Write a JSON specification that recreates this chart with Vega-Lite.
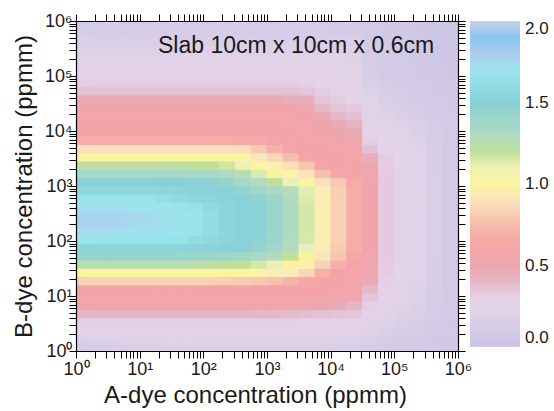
{
"$schema":"https://vega.github.io/schema/vega-lite/v6.json",
"width":382,"height":330,"autosize":"none",
"padding":{"left":76,"top":21,"right":96,"bottom":60},
"background":"white",
"config":{"view":{"stroke":null},"font":"Liberation Sans"},
"layer":[
{"data":{"values":[
{"a":1.334,"b":1.189,"v":0.12},{"a":2.371,"b":1.189,"v":0.13},{"a":4.217,"b":1.189,"v":0.14},{"a":7.499,"b":1.189,"v":0.16},{"a":13.34,"b":1.189,"v":0.17},{"a":23.71,"b":1.189,"v":0.18},{"a":42.17,"b":1.189,"v":0.18},{"a":74.99,"b":1.189,"v":0.18},{"a":133.4,"b":1.189,"v":0.18},{"a":237.1,"b":1.189,"v":0.18},{"a":421.7,"b":1.189,"v":0.18},{"a":749.9,"b":1.189,"v":0.18},{"a":1334,"b":1.189,"v":0.18},{"a":2371,"b":1.189,"v":0.18},{"a":4217,"b":1.189,"v":0.17},{"a":7499,"b":1.189,"v":0.17},{"a":13335,"b":1.189,"v":0.16},{"a":23714,"b":1.189,"v":0.15},{"a":42170,"b":1.189,"v":0.13},{"a":74989,"b":1.189,"v":0.11},{"a":133352,"b":1.189,"v":0.10},{"a":237137,"b":1.189,"v":0.09},{"a":421697,"b":1.189,"v":0.08},{"a":749894,"b":1.189,"v":0.06},
{"a":1.334,"b":1.679,"v":0.18},{"a":2.371,"b":1.679,"v":0.19},{"a":4.217,"b":1.679,"v":0.20},{"a":7.499,"b":1.679,"v":0.21},{"a":13.34,"b":1.679,"v":0.21},{"a":23.71,"b":1.679,"v":0.21},{"a":42.17,"b":1.679,"v":0.21},{"a":74.99,"b":1.679,"v":0.21},{"a":133.4,"b":1.679,"v":0.21},{"a":237.1,"b":1.679,"v":0.21},{"a":421.7,"b":1.679,"v":0.21},{"a":749.9,"b":1.679,"v":0.21},{"a":1334,"b":1.679,"v":0.21},{"a":2371,"b":1.679,"v":0.21},{"a":4217,"b":1.679,"v":0.20},{"a":7499,"b":1.679,"v":0.19},{"a":13335,"b":1.679,"v":0.18},{"a":23714,"b":1.679,"v":0.18},{"a":42170,"b":1.679,"v":0.16},{"a":74989,"b":1.679,"v":0.13},{"a":133352,"b":1.679,"v":0.12},{"a":237137,"b":1.679,"v":0.11},{"a":421697,"b":1.679,"v":0.09},{"a":749894,"b":1.679,"v":0.07},
{"a":1.334,"b":2.371,"v":0.25},{"a":2.371,"b":2.371,"v":0.25},{"a":4.217,"b":2.371,"v":0.25},{"a":7.499,"b":2.371,"v":0.25},{"a":13.34,"b":2.371,"v":0.25},{"a":23.71,"b":2.371,"v":0.25},{"a":42.17,"b":2.371,"v":0.25},{"a":74.99,"b":2.371,"v":0.25},{"a":133.4,"b":2.371,"v":0.25},{"a":237.1,"b":2.371,"v":0.25},{"a":421.7,"b":2.371,"v":0.25},{"a":749.9,"b":2.371,"v":0.25},{"a":1334,"b":2.371,"v":0.25},{"a":2371,"b":2.371,"v":0.25},{"a":4217,"b":2.371,"v":0.25},{"a":7499,"b":2.371,"v":0.24},{"a":13335,"b":2.371,"v":0.23},{"a":23714,"b":2.371,"v":0.23},{"a":42170,"b":2.371,"v":0.19},{"a":74989,"b":2.371,"v":0.16},{"a":133352,"b":2.371,"v":0.13},{"a":237137,"b":2.371,"v":0.12},{"a":421697,"b":2.371,"v":0.10},{"a":749894,"b":2.371,"v":0.08},
{"a":1.334,"b":3.35,"v":0.31},{"a":2.371,"b":3.35,"v":0.31},{"a":4.217,"b":3.35,"v":0.31},{"a":7.499,"b":3.35,"v":0.31},{"a":13.34,"b":3.35,"v":0.31},{"a":23.71,"b":3.35,"v":0.31},{"a":42.17,"b":3.35,"v":0.31},{"a":74.99,"b":3.35,"v":0.31},{"a":133.4,"b":3.35,"v":0.31},{"a":237.1,"b":3.35,"v":0.31},{"a":421.7,"b":3.35,"v":0.31},{"a":749.9,"b":3.35,"v":0.31},{"a":1334,"b":3.35,"v":0.31},{"a":2371,"b":3.35,"v":0.31},{"a":4217,"b":3.35,"v":0.30},{"a":7499,"b":3.35,"v":0.30},{"a":13335,"b":3.35,"v":0.29},{"a":23714,"b":3.35,"v":0.28},{"a":42170,"b":3.35,"v":0.23},{"a":74989,"b":3.35,"v":0.19},{"a":133352,"b":3.35,"v":0.16},{"a":237137,"b":3.35,"v":0.13},{"a":421697,"b":3.35,"v":0.11},{"a":749894,"b":3.35,"v":0.08},
{"a":1.334,"b":4.732,"v":0.40},{"a":2.371,"b":4.732,"v":0.40},{"a":4.217,"b":4.732,"v":0.40},{"a":7.499,"b":4.732,"v":0.40},{"a":13.34,"b":4.732,"v":0.40},{"a":23.71,"b":4.732,"v":0.40},{"a":42.17,"b":4.732,"v":0.40},{"a":74.99,"b":4.732,"v":0.40},{"a":133.4,"b":4.732,"v":0.40},{"a":237.1,"b":4.732,"v":0.40},{"a":421.7,"b":4.732,"v":0.40},{"a":749.9,"b":4.732,"v":0.39},{"a":1334,"b":4.732,"v":0.39},{"a":2371,"b":4.732,"v":0.38},{"a":4217,"b":4.732,"v":0.37},{"a":7499,"b":4.732,"v":0.36},{"a":13335,"b":4.732,"v":0.35},{"a":23714,"b":4.732,"v":0.34},{"a":42170,"b":4.732,"v":0.27},{"a":74989,"b":4.732,"v":0.22},{"a":133352,"b":4.732,"v":0.18},{"a":237137,"b":4.732,"v":0.15},{"a":421697,"b":4.732,"v":0.12},{"a":749894,"b":4.732,"v":0.09},
{"a":1.334,"b":6.683,"v":0.53},{"a":2.371,"b":6.683,"v":0.53},{"a":4.217,"b":6.683,"v":0.53},{"a":7.499,"b":6.683,"v":0.53},{"a":13.34,"b":6.683,"v":0.53},{"a":23.71,"b":6.683,"v":0.53},{"a":42.17,"b":6.683,"v":0.53},{"a":74.99,"b":6.683,"v":0.53},{"a":133.4,"b":6.683,"v":0.53},{"a":237.1,"b":6.683,"v":0.53},{"a":421.7,"b":6.683,"v":0.53},{"a":749.9,"b":6.683,"v":0.53},{"a":1334,"b":6.683,"v":0.52},{"a":2371,"b":6.683,"v":0.52},{"a":4217,"b":6.683,"v":0.51},{"a":7499,"b":6.683,"v":0.48},{"a":13335,"b":6.683,"v":0.44},{"a":23714,"b":6.683,"v":0.40},{"a":42170,"b":6.683,"v":0.31},{"a":74989,"b":6.683,"v":0.25},{"a":133352,"b":6.683,"v":0.20},{"a":237137,"b":6.683,"v":0.17},{"a":421697,"b":6.683,"v":0.12},{"a":749894,"b":6.683,"v":0.09},
{"a":1.334,"b":9.441,"v":0.57},{"a":2.371,"b":9.441,"v":0.57},{"a":4.217,"b":9.441,"v":0.57},{"a":7.499,"b":9.441,"v":0.57},{"a":13.34,"b":9.441,"v":0.57},{"a":23.71,"b":9.441,"v":0.57},{"a":42.17,"b":9.441,"v":0.57},{"a":74.99,"b":9.441,"v":0.57},{"a":133.4,"b":9.441,"v":0.57},{"a":237.1,"b":9.441,"v":0.57},{"a":421.7,"b":9.441,"v":0.57},{"a":749.9,"b":9.441,"v":0.57},{"a":1334,"b":9.441,"v":0.57},{"a":2371,"b":9.441,"v":0.57},{"a":4217,"b":9.441,"v":0.56},{"a":7499,"b":9.441,"v":0.55},{"a":13335,"b":9.441,"v":0.52},{"a":23714,"b":9.441,"v":0.50},{"a":42170,"b":9.441,"v":0.35},{"a":74989,"b":9.441,"v":0.27},{"a":133352,"b":9.441,"v":0.22},{"a":237137,"b":9.441,"v":0.18},{"a":421697,"b":9.441,"v":0.13},{"a":749894,"b":9.441,"v":0.10},
{"a":1.334,"b":13.34,"v":0.60},{"a":2.371,"b":13.34,"v":0.60},{"a":4.217,"b":13.34,"v":0.60},{"a":7.499,"b":13.34,"v":0.60},{"a":13.34,"b":13.34,"v":0.60},{"a":23.71,"b":13.34,"v":0.60},{"a":42.17,"b":13.34,"v":0.60},{"a":74.99,"b":13.34,"v":0.60},{"a":133.4,"b":13.34,"v":0.60},{"a":237.1,"b":13.34,"v":0.60},{"a":421.7,"b":13.34,"v":0.60},{"a":749.9,"b":13.34,"v":0.60},{"a":1334,"b":13.34,"v":0.60},{"a":2371,"b":13.34,"v":0.59},{"a":4217,"b":13.34,"v":0.59},{"a":7499,"b":13.34,"v":0.58},{"a":13335,"b":13.34,"v":0.56},{"a":23714,"b":13.34,"v":0.54},{"a":42170,"b":13.34,"v":0.39},{"a":74989,"b":13.34,"v":0.29},{"a":133352,"b":13.34,"v":0.23},{"a":237137,"b":13.34,"v":0.19},{"a":421697,"b":13.34,"v":0.13},{"a":749894,"b":13.34,"v":0.10},
{"a":1.334,"b":18.84,"v":0.84},{"a":2.371,"b":18.84,"v":0.84},{"a":4.217,"b":18.84,"v":0.84},{"a":7.499,"b":18.84,"v":0.84},{"a":13.34,"b":18.84,"v":0.84},{"a":23.71,"b":18.84,"v":0.84},{"a":42.17,"b":18.84,"v":0.84},{"a":74.99,"b":18.84,"v":0.84},{"a":133.4,"b":18.84,"v":0.83},{"a":237.1,"b":18.84,"v":0.82},{"a":421.7,"b":18.84,"v":0.81},{"a":749.9,"b":18.84,"v":0.79},{"a":1334,"b":18.84,"v":0.76},{"a":2371,"b":18.84,"v":0.71},{"a":4217,"b":18.84,"v":0.64},{"a":7499,"b":18.84,"v":0.60},{"a":13335,"b":18.84,"v":0.59},{"a":23714,"b":18.84,"v":0.57},{"a":42170,"b":18.84,"v":0.44},{"a":74989,"b":18.84,"v":0.31},{"a":133352,"b":18.84,"v":0.24},{"a":237137,"b":18.84,"v":0.20},{"a":421697,"b":18.84,"v":0.14},{"a":749894,"b":18.84,"v":0.10},
{"a":1.334,"b":26.61,"v":1.04},{"a":2.371,"b":26.61,"v":1.04},{"a":4.217,"b":26.61,"v":1.04},{"a":7.499,"b":26.61,"v":1.04},{"a":13.34,"b":26.61,"v":1.04},{"a":23.71,"b":26.61,"v":1.04},{"a":42.17,"b":26.61,"v":1.04},{"a":74.99,"b":26.61,"v":1.03},{"a":133.4,"b":26.61,"v":1.03},{"a":237.1,"b":26.61,"v":1.02},{"a":421.7,"b":26.61,"v":1.00},{"a":749.9,"b":26.61,"v":0.98},{"a":1334,"b":26.61,"v":0.95},{"a":2371,"b":26.61,"v":0.92},{"a":4217,"b":26.61,"v":0.85},{"a":7499,"b":26.61,"v":0.70},{"a":13335,"b":26.61,"v":0.60},{"a":23714,"b":26.61,"v":0.59},{"a":42170,"b":26.61,"v":0.48},{"a":74989,"b":26.61,"v":0.32},{"a":133352,"b":26.61,"v":0.25},{"a":237137,"b":26.61,"v":0.20},{"a":421697,"b":26.61,"v":0.14},{"a":749894,"b":26.61,"v":0.10},
{"a":1.334,"b":37.58,"v":1.23},{"a":2.371,"b":37.58,"v":1.23},{"a":4.217,"b":37.58,"v":1.23},{"a":7.499,"b":37.58,"v":1.23},{"a":13.34,"b":37.58,"v":1.23},{"a":23.71,"b":37.58,"v":1.23},{"a":42.17,"b":37.58,"v":1.23},{"a":74.99,"b":37.58,"v":1.22},{"a":133.4,"b":37.58,"v":1.21},{"a":237.1,"b":37.58,"v":1.20},{"a":421.7,"b":37.58,"v":1.18},{"a":749.9,"b":37.58,"v":1.15},{"a":1334,"b":37.58,"v":1.11},{"a":2371,"b":37.58,"v":1.05},{"a":4217,"b":37.58,"v":0.97},{"a":7499,"b":37.58,"v":0.84},{"a":13335,"b":37.58,"v":0.69},{"a":23714,"b":37.58,"v":0.60},{"a":42170,"b":37.58,"v":0.50},{"a":74989,"b":37.58,"v":0.32},{"a":133352,"b":37.58,"v":0.26},{"a":237137,"b":37.58,"v":0.20},{"a":421697,"b":37.58,"v":0.14},{"a":749894,"b":37.58,"v":0.10},
{"a":1.334,"b":53.09,"v":1.42},{"a":2.371,"b":53.09,"v":1.42},{"a":4.217,"b":53.09,"v":1.42},{"a":7.499,"b":53.09,"v":1.42},{"a":13.34,"b":53.09,"v":1.42},{"a":23.71,"b":53.09,"v":1.42},{"a":42.17,"b":53.09,"v":1.41},{"a":74.99,"b":53.09,"v":1.41},{"a":133.4,"b":53.09,"v":1.40},{"a":237.1,"b":53.09,"v":1.39},{"a":421.7,"b":53.09,"v":1.37},{"a":749.9,"b":53.09,"v":1.33},{"a":1334,"b":53.09,"v":1.27},{"a":2371,"b":53.09,"v":1.19},{"a":4217,"b":53.09,"v":1.06},{"a":7499,"b":53.09,"v":0.90},{"a":13335,"b":53.09,"v":0.78},{"a":23714,"b":53.09,"v":0.64},{"a":42170,"b":53.09,"v":0.51},{"a":74989,"b":53.09,"v":0.33},{"a":133352,"b":53.09,"v":0.26},{"a":237137,"b":53.09,"v":0.20},{"a":421697,"b":53.09,"v":0.14},{"a":749894,"b":53.09,"v":0.10},
{"a":1.334,"b":74.99,"v":1.56},{"a":2.371,"b":74.99,"v":1.56},{"a":4.217,"b":74.99,"v":1.56},{"a":7.499,"b":74.99,"v":1.56},{"a":13.34,"b":74.99,"v":1.56},{"a":23.71,"b":74.99,"v":1.56},{"a":42.17,"b":74.99,"v":1.56},{"a":74.99,"b":74.99,"v":1.55},{"a":133.4,"b":74.99,"v":1.54},{"a":237.1,"b":74.99,"v":1.52},{"a":421.7,"b":74.99,"v":1.48},{"a":749.9,"b":74.99,"v":1.44},{"a":1334,"b":74.99,"v":1.37},{"a":2371,"b":74.99,"v":1.27},{"a":4217,"b":74.99,"v":1.12},{"a":7499,"b":74.99,"v":0.93},{"a":13335,"b":74.99,"v":0.81},{"a":23714,"b":74.99,"v":0.67},{"a":42170,"b":74.99,"v":0.52},{"a":74989,"b":74.99,"v":0.33},{"a":133352,"b":74.99,"v":0.26},{"a":237137,"b":74.99,"v":0.20},{"a":421697,"b":74.99,"v":0.15},{"a":749894,"b":74.99,"v":0.10},
{"a":1.334,"b":105.9,"v":1.65},{"a":2.371,"b":105.9,"v":1.65},{"a":4.217,"b":105.9,"v":1.65},{"a":7.499,"b":105.9,"v":1.65},{"a":13.34,"b":105.9,"v":1.64},{"a":23.71,"b":105.9,"v":1.64},{"a":42.17,"b":105.9,"v":1.63},{"a":74.99,"b":105.9,"v":1.61},{"a":133.4,"b":105.9,"v":1.59},{"a":237.1,"b":105.9,"v":1.56},{"a":421.7,"b":105.9,"v":1.52},{"a":749.9,"b":105.9,"v":1.47},{"a":1334,"b":105.9,"v":1.40},{"a":2371,"b":105.9,"v":1.30},{"a":4217,"b":105.9,"v":1.15},{"a":7499,"b":105.9,"v":0.95},{"a":13335,"b":105.9,"v":0.83},{"a":23714,"b":105.9,"v":0.68},{"a":42170,"b":105.9,"v":0.52},{"a":74989,"b":105.9,"v":0.33},{"a":133352,"b":105.9,"v":0.26},{"a":237137,"b":105.9,"v":0.20},{"a":421697,"b":105.9,"v":0.15},{"a":749894,"b":105.9,"v":0.10},
{"a":1.334,"b":149.6,"v":1.73},{"a":2.371,"b":149.6,"v":1.73},{"a":4.217,"b":149.6,"v":1.73},{"a":7.499,"b":149.6,"v":1.72},{"a":13.34,"b":149.6,"v":1.71},{"a":23.71,"b":149.6,"v":1.70},{"a":42.17,"b":149.6,"v":1.67},{"a":74.99,"b":149.6,"v":1.64},{"a":133.4,"b":149.6,"v":1.61},{"a":237.1,"b":149.6,"v":1.58},{"a":421.7,"b":149.6,"v":1.53},{"a":749.9,"b":149.6,"v":1.48},{"a":1334,"b":149.6,"v":1.41},{"a":2371,"b":149.6,"v":1.31},{"a":4217,"b":149.6,"v":1.15},{"a":7499,"b":149.6,"v":0.95},{"a":13335,"b":149.6,"v":0.83},{"a":23714,"b":149.6,"v":0.68},{"a":42170,"b":149.6,"v":0.52},{"a":74989,"b":149.6,"v":0.33},{"a":133352,"b":149.6,"v":0.26},{"a":237137,"b":149.6,"v":0.20},{"a":421697,"b":149.6,"v":0.15},{"a":749894,"b":149.6,"v":0.10},
{"a":1.334,"b":211.3,"v":1.79},{"a":2.371,"b":211.3,"v":1.78},{"a":4.217,"b":211.3,"v":1.77},{"a":7.499,"b":211.3,"v":1.75},{"a":13.34,"b":211.3,"v":1.73},{"a":23.71,"b":211.3,"v":1.71},{"a":42.17,"b":211.3,"v":1.68},{"a":74.99,"b":211.3,"v":1.65},{"a":133.4,"b":211.3,"v":1.61},{"a":237.1,"b":211.3,"v":1.58},{"a":421.7,"b":211.3,"v":1.53},{"a":749.9,"b":211.3,"v":1.48},{"a":1334,"b":211.3,"v":1.41},{"a":2371,"b":211.3,"v":1.31},{"a":4217,"b":211.3,"v":1.15},{"a":7499,"b":211.3,"v":0.95},{"a":13335,"b":211.3,"v":0.83},{"a":23714,"b":211.3,"v":0.68},{"a":42170,"b":211.3,"v":0.52},{"a":74989,"b":211.3,"v":0.33},{"a":133352,"b":211.3,"v":0.26},{"a":237137,"b":211.3,"v":0.20},{"a":421697,"b":211.3,"v":0.15},{"a":749894,"b":211.3,"v":0.10},
{"a":1.334,"b":298.5,"v":1.77},{"a":2.371,"b":298.5,"v":1.77},{"a":4.217,"b":298.5,"v":1.76},{"a":7.499,"b":298.5,"v":1.75},{"a":13.34,"b":298.5,"v":1.73},{"a":23.71,"b":298.5,"v":1.71},{"a":42.17,"b":298.5,"v":1.68},{"a":74.99,"b":298.5,"v":1.65},{"a":133.4,"b":298.5,"v":1.61},{"a":237.1,"b":298.5,"v":1.58},{"a":421.7,"b":298.5,"v":1.53},{"a":749.9,"b":298.5,"v":1.48},{"a":1334,"b":298.5,"v":1.41},{"a":2371,"b":298.5,"v":1.31},{"a":4217,"b":298.5,"v":1.15},{"a":7499,"b":298.5,"v":0.95},{"a":13335,"b":298.5,"v":0.83},{"a":23714,"b":298.5,"v":0.68},{"a":42170,"b":298.5,"v":0.52},{"a":74989,"b":298.5,"v":0.33},{"a":133352,"b":298.5,"v":0.26},{"a":237137,"b":298.5,"v":0.20},{"a":421697,"b":298.5,"v":0.15},{"a":749894,"b":298.5,"v":0.10},
{"a":1.334,"b":421.7,"v":1.71},{"a":2.371,"b":421.7,"v":1.71},{"a":4.217,"b":421.7,"v":1.71},{"a":7.499,"b":421.7,"v":1.70},{"a":13.34,"b":421.7,"v":1.68},{"a":23.71,"b":421.7,"v":1.67},{"a":42.17,"b":421.7,"v":1.65},{"a":74.99,"b":421.7,"v":1.63},{"a":133.4,"b":421.7,"v":1.60},{"a":237.1,"b":421.7,"v":1.57},{"a":421.7,"b":421.7,"v":1.53},{"a":749.9,"b":421.7,"v":1.48},{"a":1334,"b":421.7,"v":1.41},{"a":2371,"b":421.7,"v":1.31},{"a":4217,"b":421.7,"v":1.15},{"a":7499,"b":421.7,"v":0.95},{"a":13335,"b":421.7,"v":0.83},{"a":23714,"b":421.7,"v":0.68},{"a":42170,"b":421.7,"v":0.52},{"a":74989,"b":421.7,"v":0.33},{"a":133352,"b":421.7,"v":0.26},{"a":237137,"b":421.7,"v":0.20},{"a":421697,"b":421.7,"v":0.15},{"a":749894,"b":421.7,"v":0.10},
{"a":1.334,"b":595.7,"v":1.64},{"a":2.371,"b":595.7,"v":1.64},{"a":4.217,"b":595.7,"v":1.64},{"a":7.499,"b":595.7,"v":1.64},{"a":13.34,"b":595.7,"v":1.64},{"a":23.71,"b":595.7,"v":1.62},{"a":42.17,"b":595.7,"v":1.60},{"a":74.99,"b":595.7,"v":1.58},{"a":133.4,"b":595.7,"v":1.56},{"a":237.1,"b":595.7,"v":1.54},{"a":421.7,"b":595.7,"v":1.50},{"a":749.9,"b":595.7,"v":1.47},{"a":1334,"b":595.7,"v":1.40},{"a":2371,"b":595.7,"v":1.30},{"a":4217,"b":595.7,"v":1.14},{"a":7499,"b":595.7,"v":0.95},{"a":13335,"b":595.7,"v":0.83},{"a":23714,"b":595.7,"v":0.68},{"a":42170,"b":595.7,"v":0.52},{"a":74989,"b":595.7,"v":0.33},{"a":133352,"b":595.7,"v":0.26},{"a":237137,"b":595.7,"v":0.20},{"a":421697,"b":595.7,"v":0.15},{"a":749894,"b":595.7,"v":0.10},
{"a":1.334,"b":841.4,"v":1.58},{"a":2.371,"b":841.4,"v":1.58},{"a":4.217,"b":841.4,"v":1.58},{"a":7.499,"b":841.4,"v":1.58},{"a":13.34,"b":841.4,"v":1.58},{"a":23.71,"b":841.4,"v":1.57},{"a":42.17,"b":841.4,"v":1.56},{"a":74.99,"b":841.4,"v":1.54},{"a":133.4,"b":841.4,"v":1.51},{"a":237.1,"b":841.4,"v":1.48},{"a":421.7,"b":841.4,"v":1.45},{"a":749.9,"b":841.4,"v":1.38},{"a":1334,"b":841.4,"v":1.33},{"a":2371,"b":841.4,"v":1.24},{"a":4217,"b":841.4,"v":1.13},{"a":7499,"b":841.4,"v":0.94},{"a":13335,"b":841.4,"v":0.82},{"a":23714,"b":841.4,"v":0.67},{"a":42170,"b":841.4,"v":0.52},{"a":74989,"b":841.4,"v":0.33},{"a":133352,"b":841.4,"v":0.26},{"a":237137,"b":841.4,"v":0.20},{"a":421697,"b":841.4,"v":0.15},{"a":749894,"b":841.4,"v":0.10},
{"a":1.334,"b":1189,"v":1.51},{"a":2.371,"b":1189,"v":1.51},{"a":4.217,"b":1189,"v":1.51},{"a":7.499,"b":1189,"v":1.51},{"a":13.34,"b":1189,"v":1.51},{"a":23.71,"b":1189,"v":1.50},{"a":42.17,"b":1189,"v":1.50},{"a":74.99,"b":1189,"v":1.49},{"a":133.4,"b":1189,"v":1.46},{"a":237.1,"b":1189,"v":1.42},{"a":421.7,"b":1189,"v":1.35},{"a":749.9,"b":1189,"v":1.28},{"a":1334,"b":1189,"v":1.20},{"a":2371,"b":1189,"v":1.11},{"a":4217,"b":1189,"v":1.00},{"a":7499,"b":1189,"v":0.89},{"a":13335,"b":1189,"v":0.80},{"a":23714,"b":1189,"v":0.65},{"a":42170,"b":1189,"v":0.51},{"a":74989,"b":1189,"v":0.33},{"a":133352,"b":1189,"v":0.26},{"a":237137,"b":1189,"v":0.20},{"a":421697,"b":1189,"v":0.15},{"a":749894,"b":1189,"v":0.10},
{"a":1.334,"b":1679,"v":1.36},{"a":2.371,"b":1679,"v":1.36},{"a":4.217,"b":1679,"v":1.36},{"a":7.499,"b":1679,"v":1.36},{"a":13.34,"b":1679,"v":1.36},{"a":23.71,"b":1679,"v":1.36},{"a":42.17,"b":1679,"v":1.35},{"a":74.99,"b":1679,"v":1.35},{"a":133.4,"b":1679,"v":1.34},{"a":237.1,"b":1679,"v":1.30},{"a":421.7,"b":1679,"v":1.23},{"a":749.9,"b":1679,"v":1.14},{"a":1334,"b":1679,"v":1.07},{"a":2371,"b":1679,"v":0.98},{"a":4217,"b":1679,"v":0.90},{"a":7499,"b":1679,"v":0.76},{"a":13335,"b":1679,"v":0.64},{"a":23714,"b":1679,"v":0.60},{"a":42170,"b":1679,"v":0.51},{"a":74989,"b":1679,"v":0.33},{"a":133352,"b":1679,"v":0.26},{"a":237137,"b":1679,"v":0.20},{"a":421697,"b":1679,"v":0.14},{"a":749894,"b":1679,"v":0.10},
{"a":1.334,"b":2371,"v":1.21},{"a":2.371,"b":2371,"v":1.21},{"a":4.217,"b":2371,"v":1.21},{"a":7.499,"b":2371,"v":1.21},{"a":13.34,"b":2371,"v":1.21},{"a":23.71,"b":2371,"v":1.21},{"a":42.17,"b":2371,"v":1.21},{"a":74.99,"b":2371,"v":1.20},{"a":133.4,"b":2371,"v":1.19},{"a":237.1,"b":2371,"v":1.16},{"a":421.7,"b":2371,"v":1.10},{"a":749.9,"b":2371,"v":1.01},{"a":1334,"b":2371,"v":0.95},{"a":2371,"b":2371,"v":0.88},{"a":4217,"b":2371,"v":0.78},{"a":7499,"b":2371,"v":0.61},{"a":13335,"b":2371,"v":0.59},{"a":23714,"b":2371,"v":0.59},{"a":42170,"b":2371,"v":0.49},{"a":74989,"b":2371,"v":0.32},{"a":133352,"b":2371,"v":0.26},{"a":237137,"b":2371,"v":0.20},{"a":421697,"b":2371,"v":0.14},{"a":749894,"b":2371,"v":0.10},
{"a":1.334,"b":3350,"v":1.05},{"a":2.371,"b":3350,"v":1.05},{"a":4.217,"b":3350,"v":1.05},{"a":7.499,"b":3350,"v":1.05},{"a":13.34,"b":3350,"v":1.05},{"a":23.71,"b":3350,"v":1.05},{"a":42.17,"b":3350,"v":1.05},{"a":74.99,"b":3350,"v":1.05},{"a":133.4,"b":3350,"v":1.04},{"a":237.1,"b":3350,"v":1.03},{"a":421.7,"b":3350,"v":0.98},{"a":749.9,"b":3350,"v":0.91},{"a":1334,"b":3350,"v":0.85},{"a":2371,"b":3350,"v":0.75},{"a":4217,"b":3350,"v":0.62},{"a":7499,"b":3350,"v":0.59},{"a":13335,"b":3350,"v":0.58},{"a":23714,"b":3350,"v":0.57},{"a":42170,"b":3350,"v":0.43},{"a":74989,"b":3350,"v":0.32},{"a":133352,"b":3350,"v":0.25},{"a":237137,"b":3350,"v":0.20},{"a":421697,"b":3350,"v":0.14},{"a":749894,"b":3350,"v":0.10},
{"a":1.334,"b":4732,"v":0.89},{"a":2.371,"b":4732,"v":0.89},{"a":4.217,"b":4732,"v":0.89},{"a":7.499,"b":4732,"v":0.89},{"a":13.34,"b":4732,"v":0.89},{"a":23.71,"b":4732,"v":0.89},{"a":42.17,"b":4732,"v":0.89},{"a":74.99,"b":4732,"v":0.89},{"a":133.4,"b":4732,"v":0.89},{"a":237.1,"b":4732,"v":0.88},{"a":421.7,"b":4732,"v":0.87},{"a":749.9,"b":4732,"v":0.80},{"a":1334,"b":4732,"v":0.70},{"a":2371,"b":4732,"v":0.61},{"a":4217,"b":4732,"v":0.59},{"a":7499,"b":4732,"v":0.58},{"a":13335,"b":4732,"v":0.57},{"a":23714,"b":4732,"v":0.55},{"a":42170,"b":4732,"v":0.36},{"a":74989,"b":4732,"v":0.29},{"a":133352,"b":4732,"v":0.25},{"a":237137,"b":4732,"v":0.20},{"a":421697,"b":4732,"v":0.14},{"a":749894,"b":4732,"v":0.10},
{"a":1.334,"b":6683,"v":0.68},{"a":2.371,"b":6683,"v":0.68},{"a":4.217,"b":6683,"v":0.68},{"a":7.499,"b":6683,"v":0.68},{"a":13.34,"b":6683,"v":0.68},{"a":23.71,"b":6683,"v":0.68},{"a":42.17,"b":6683,"v":0.68},{"a":74.99,"b":6683,"v":0.68},{"a":133.4,"b":6683,"v":0.67},{"a":237.1,"b":6683,"v":0.67},{"a":421.7,"b":6683,"v":0.66},{"a":749.9,"b":6683,"v":0.65},{"a":1334,"b":6683,"v":0.60},{"a":2371,"b":6683,"v":0.59},{"a":4217,"b":6683,"v":0.58},{"a":7499,"b":6683,"v":0.56},{"a":13335,"b":6683,"v":0.54},{"a":23714,"b":6683,"v":0.52},{"a":42170,"b":6683,"v":0.32},{"a":74989,"b":6683,"v":0.26},{"a":133352,"b":6683,"v":0.21},{"a":237137,"b":6683,"v":0.18},{"a":421697,"b":6683,"v":0.13},{"a":749894,"b":6683,"v":0.10},
{"a":1.334,"b":9441,"v":0.59},{"a":2.371,"b":9441,"v":0.59},{"a":4.217,"b":9441,"v":0.59},{"a":7.499,"b":9441,"v":0.59},{"a":13.34,"b":9441,"v":0.59},{"a":23.71,"b":9441,"v":0.59},{"a":42.17,"b":9441,"v":0.59},{"a":74.99,"b":9441,"v":0.59},{"a":133.4,"b":9441,"v":0.59},{"a":237.1,"b":9441,"v":0.59},{"a":421.7,"b":9441,"v":0.59},{"a":749.9,"b":9441,"v":0.59},{"a":1334,"b":9441,"v":0.59},{"a":2371,"b":9441,"v":0.58},{"a":4217,"b":9441,"v":0.57},{"a":7499,"b":9441,"v":0.54},{"a":13335,"b":9441,"v":0.52},{"a":23714,"b":9441,"v":0.47},{"a":42170,"b":9441,"v":0.29},{"a":74989,"b":9441,"v":0.23},{"a":133352,"b":9441,"v":0.20},{"a":237137,"b":9441,"v":0.17},{"a":421697,"b":9441,"v":0.13},{"a":749894,"b":9441,"v":0.10},
{"a":1.334,"b":13335,"v":0.58},{"a":2.371,"b":13335,"v":0.58},{"a":4.217,"b":13335,"v":0.58},{"a":7.499,"b":13335,"v":0.58},{"a":13.34,"b":13335,"v":0.58},{"a":23.71,"b":13335,"v":0.58},{"a":42.17,"b":13335,"v":0.58},{"a":74.99,"b":13335,"v":0.58},{"a":133.4,"b":13335,"v":0.58},{"a":237.1,"b":13335,"v":0.58},{"a":421.7,"b":13335,"v":0.58},{"a":749.9,"b":13335,"v":0.58},{"a":1334,"b":13335,"v":0.58},{"a":2371,"b":13335,"v":0.57},{"a":4217,"b":13335,"v":0.55},{"a":7499,"b":13335,"v":0.52},{"a":13335,"b":13335,"v":0.46},{"a":23714,"b":13335,"v":0.41},{"a":42170,"b":13335,"v":0.27},{"a":74989,"b":13335,"v":0.21},{"a":133352,"b":13335,"v":0.18},{"a":237137,"b":13335,"v":0.15},{"a":421697,"b":13335,"v":0.12},{"a":749894,"b":13335,"v":0.10},
{"a":1.334,"b":18836,"v":0.56},{"a":2.371,"b":18836,"v":0.56},{"a":4.217,"b":18836,"v":0.56},{"a":7.499,"b":18836,"v":0.56},{"a":13.34,"b":18836,"v":0.56},{"a":23.71,"b":18836,"v":0.56},{"a":42.17,"b":18836,"v":0.56},{"a":74.99,"b":18836,"v":0.56},{"a":133.4,"b":18836,"v":0.56},{"a":237.1,"b":18836,"v":0.56},{"a":421.7,"b":18836,"v":0.56},{"a":749.9,"b":18836,"v":0.56},{"a":1334,"b":18836,"v":0.55},{"a":2371,"b":18836,"v":0.55},{"a":4217,"b":18836,"v":0.53},{"a":7499,"b":18836,"v":0.45},{"a":13335,"b":18836,"v":0.39},{"a":23714,"b":18836,"v":0.36},{"a":42170,"b":18836,"v":0.24},{"a":74989,"b":18836,"v":0.19},{"a":133352,"b":18836,"v":0.16},{"a":237137,"b":18836,"v":0.13},{"a":421697,"b":18836,"v":0.11},{"a":749894,"b":18836,"v":0.09},
{"a":1.334,"b":26607,"v":0.53},{"a":2.371,"b":26607,"v":0.53},{"a":4.217,"b":26607,"v":0.53},{"a":7.499,"b":26607,"v":0.53},{"a":13.34,"b":26607,"v":0.53},{"a":23.71,"b":26607,"v":0.53},{"a":42.17,"b":26607,"v":0.53},{"a":74.99,"b":26607,"v":0.53},{"a":133.4,"b":26607,"v":0.53},{"a":237.1,"b":26607,"v":0.53},{"a":421.7,"b":26607,"v":0.53},{"a":749.9,"b":26607,"v":0.53},{"a":1334,"b":26607,"v":0.52},{"a":2371,"b":26607,"v":0.52},{"a":4217,"b":26607,"v":0.48},{"a":7499,"b":26607,"v":0.39},{"a":13335,"b":26607,"v":0.35},{"a":23714,"b":26607,"v":0.33},{"a":42170,"b":26607,"v":0.22},{"a":74989,"b":26607,"v":0.17},{"a":133352,"b":26607,"v":0.14},{"a":237137,"b":26607,"v":0.12},{"a":421697,"b":26607,"v":0.10},{"a":749894,"b":26607,"v":0.08},
{"a":1.334,"b":37584,"v":0.45},{"a":2.371,"b":37584,"v":0.45},{"a":4.217,"b":37584,"v":0.45},{"a":7.499,"b":37584,"v":0.45},{"a":13.34,"b":37584,"v":0.45},{"a":23.71,"b":37584,"v":0.45},{"a":42.17,"b":37584,"v":0.45},{"a":74.99,"b":37584,"v":0.45},{"a":133.4,"b":37584,"v":0.45},{"a":237.1,"b":37584,"v":0.45},{"a":421.7,"b":37584,"v":0.44},{"a":749.9,"b":37584,"v":0.44},{"a":1334,"b":37584,"v":0.44},{"a":2371,"b":37584,"v":0.43},{"a":4217,"b":37584,"v":0.42},{"a":7499,"b":37584,"v":0.35},{"a":13335,"b":37584,"v":0.32},{"a":23714,"b":37584,"v":0.30},{"a":42170,"b":37584,"v":0.20},{"a":74989,"b":37584,"v":0.15},{"a":133352,"b":37584,"v":0.13},{"a":237137,"b":37584,"v":0.11},{"a":421697,"b":37584,"v":0.09},{"a":749894,"b":37584,"v":0.07},
{"a":1.334,"b":53088,"v":0.36},{"a":2.371,"b":53088,"v":0.36},{"a":4.217,"b":53088,"v":0.36},{"a":7.499,"b":53088,"v":0.36},{"a":13.34,"b":53088,"v":0.36},{"a":23.71,"b":53088,"v":0.36},{"a":42.17,"b":53088,"v":0.36},{"a":74.99,"b":53088,"v":0.36},{"a":133.4,"b":53088,"v":0.36},{"a":237.1,"b":53088,"v":0.36},{"a":421.7,"b":53088,"v":0.36},{"a":749.9,"b":53088,"v":0.36},{"a":1334,"b":53088,"v":0.36},{"a":2371,"b":53088,"v":0.36},{"a":4217,"b":53088,"v":0.35},{"a":7499,"b":53088,"v":0.32},{"a":13335,"b":53088,"v":0.29},{"a":23714,"b":53088,"v":0.28},{"a":42170,"b":53088,"v":0.18},{"a":74989,"b":53088,"v":0.14},{"a":133352,"b":53088,"v":0.12},{"a":237137,"b":53088,"v":0.10},{"a":421697,"b":53088,"v":0.08},{"a":749894,"b":53088,"v":0.07},
{"a":1.334,"b":74989,"v":0.32},{"a":2.371,"b":74989,"v":0.32},{"a":4.217,"b":74989,"v":0.32},{"a":7.499,"b":74989,"v":0.32},{"a":13.34,"b":74989,"v":0.32},{"a":23.71,"b":74989,"v":0.32},{"a":42.17,"b":74989,"v":0.32},{"a":74.99,"b":74989,"v":0.32},{"a":133.4,"b":74989,"v":0.32},{"a":237.1,"b":74989,"v":0.32},{"a":421.7,"b":74989,"v":0.32},{"a":749.9,"b":74989,"v":0.32},{"a":1334,"b":74989,"v":0.32},{"a":2371,"b":74989,"v":0.32},{"a":4217,"b":74989,"v":0.31},{"a":7499,"b":74989,"v":0.29},{"a":13335,"b":74989,"v":0.27},{"a":23714,"b":74989,"v":0.25},{"a":42170,"b":74989,"v":0.16},{"a":74989,"b":74989,"v":0.12},{"a":133352,"b":74989,"v":0.11},{"a":237137,"b":74989,"v":0.09},{"a":421697,"b":74989,"v":0.08},{"a":749894,"b":74989,"v":0.06},
{"a":1.334,"b":105925,"v":0.28},{"a":2.371,"b":105925,"v":0.28},{"a":4.217,"b":105925,"v":0.28},{"a":7.499,"b":105925,"v":0.28},{"a":13.34,"b":105925,"v":0.28},{"a":23.71,"b":105925,"v":0.28},{"a":42.17,"b":105925,"v":0.28},{"a":74.99,"b":105925,"v":0.28},{"a":133.4,"b":105925,"v":0.28},{"a":237.1,"b":105925,"v":0.28},{"a":421.7,"b":105925,"v":0.28},{"a":749.9,"b":105925,"v":0.28},{"a":1334,"b":105925,"v":0.28},{"a":2371,"b":105925,"v":0.28},{"a":4217,"b":105925,"v":0.27},{"a":7499,"b":105925,"v":0.26},{"a":13335,"b":105925,"v":0.24},{"a":23714,"b":105925,"v":0.23},{"a":42170,"b":105925,"v":0.14},{"a":74989,"b":105925,"v":0.11},{"a":133352,"b":105925,"v":0.10},{"a":237137,"b":105925,"v":0.08},{"a":421697,"b":105925,"v":0.07},{"a":749894,"b":105925,"v":0.05},
{"a":1.334,"b":149624,"v":0.24},{"a":2.371,"b":149624,"v":0.24},{"a":4.217,"b":149624,"v":0.24},{"a":7.499,"b":149624,"v":0.24},{"a":13.34,"b":149624,"v":0.24},{"a":23.71,"b":149624,"v":0.24},{"a":42.17,"b":149624,"v":0.24},{"a":74.99,"b":149624,"v":0.24},{"a":133.4,"b":149624,"v":0.24},{"a":237.1,"b":149624,"v":0.24},{"a":421.7,"b":149624,"v":0.24},{"a":749.9,"b":149624,"v":0.24},{"a":1334,"b":149624,"v":0.24},{"a":2371,"b":149624,"v":0.24},{"a":4217,"b":149624,"v":0.24},{"a":7499,"b":149624,"v":0.23},{"a":13335,"b":149624,"v":0.22},{"a":23714,"b":149624,"v":0.21},{"a":42170,"b":149624,"v":0.13},{"a":74989,"b":149624,"v":0.11},{"a":133352,"b":149624,"v":0.09},{"a":237137,"b":149624,"v":0.08},{"a":421697,"b":149624,"v":0.06},{"a":749894,"b":149624,"v":0.05},
{"a":1.334,"b":211349,"v":0.21},{"a":2.371,"b":211349,"v":0.21},{"a":4.217,"b":211349,"v":0.21},{"a":7.499,"b":211349,"v":0.21},{"a":13.34,"b":211349,"v":0.21},{"a":23.71,"b":211349,"v":0.21},{"a":42.17,"b":211349,"v":0.21},{"a":74.99,"b":211349,"v":0.21},{"a":133.4,"b":211349,"v":0.21},{"a":237.1,"b":211349,"v":0.21},{"a":421.7,"b":211349,"v":0.21},{"a":749.9,"b":211349,"v":0.21},{"a":1334,"b":211349,"v":0.21},{"a":2371,"b":211349,"v":0.21},{"a":4217,"b":211349,"v":0.21},{"a":7499,"b":211349,"v":0.20},{"a":13335,"b":211349,"v":0.20},{"a":23714,"b":211349,"v":0.19},{"a":42170,"b":211349,"v":0.12},{"a":74989,"b":211349,"v":0.10},{"a":133352,"b":211349,"v":0.08},{"a":237137,"b":211349,"v":0.07},{"a":421697,"b":211349,"v":0.06},{"a":749894,"b":211349,"v":0.04},
{"a":1.334,"b":298538,"v":0.18},{"a":2.371,"b":298538,"v":0.18},{"a":4.217,"b":298538,"v":0.18},{"a":7.499,"b":298538,"v":0.18},{"a":13.34,"b":298538,"v":0.18},{"a":23.71,"b":298538,"v":0.18},{"a":42.17,"b":298538,"v":0.18},{"a":74.99,"b":298538,"v":0.18},{"a":133.4,"b":298538,"v":0.18},{"a":237.1,"b":298538,"v":0.18},{"a":421.7,"b":298538,"v":0.18},{"a":749.9,"b":298538,"v":0.18},{"a":1334,"b":298538,"v":0.18},{"a":2371,"b":298538,"v":0.18},{"a":4217,"b":298538,"v":0.18},{"a":7499,"b":298538,"v":0.17},{"a":13335,"b":298538,"v":0.17},{"a":23714,"b":298538,"v":0.17},{"a":42170,"b":298538,"v":0.11},{"a":74989,"b":298538,"v":0.09},{"a":133352,"b":298538,"v":0.07},{"a":237137,"b":298538,"v":0.06},{"a":421697,"b":298538,"v":0.05},{"a":749894,"b":298538,"v":0.04},
{"a":1.334,"b":421697,"v":0.15},{"a":2.371,"b":421697,"v":0.15},{"a":4.217,"b":421697,"v":0.15},{"a":7.499,"b":421697,"v":0.15},{"a":13.34,"b":421697,"v":0.15},{"a":23.71,"b":421697,"v":0.15},{"a":42.17,"b":421697,"v":0.15},{"a":74.99,"b":421697,"v":0.15},{"a":133.4,"b":421697,"v":0.15},{"a":237.1,"b":421697,"v":0.15},{"a":421.7,"b":421697,"v":0.15},{"a":749.9,"b":421697,"v":0.15},{"a":1334,"b":421697,"v":0.15},{"a":2371,"b":421697,"v":0.15},{"a":4217,"b":421697,"v":0.15},{"a":7499,"b":421697,"v":0.15},{"a":13335,"b":421697,"v":0.14},{"a":23714,"b":421697,"v":0.14},{"a":42170,"b":421697,"v":0.10},{"a":74989,"b":421697,"v":0.08},{"a":133352,"b":421697,"v":0.07},{"a":237137,"b":421697,"v":0.06},{"a":421697,"b":421697,"v":0.05},{"a":749894,"b":421697,"v":0.04},
{"a":1.334,"b":595662,"v":0.13},{"a":2.371,"b":595662,"v":0.13},{"a":4.217,"b":595662,"v":0.13},{"a":7.499,"b":595662,"v":0.13},{"a":13.34,"b":595662,"v":0.13},{"a":23.71,"b":595662,"v":0.13},{"a":42.17,"b":595662,"v":0.13},{"a":74.99,"b":595662,"v":0.13},{"a":133.4,"b":595662,"v":0.13},{"a":237.1,"b":595662,"v":0.13},{"a":421.7,"b":595662,"v":0.13},{"a":749.9,"b":595662,"v":0.13},{"a":1334,"b":595662,"v":0.13},{"a":2371,"b":595662,"v":0.13},{"a":4217,"b":595662,"v":0.13},{"a":7499,"b":595662,"v":0.13},{"a":13335,"b":595662,"v":0.12},{"a":23714,"b":595662,"v":0.12},{"a":42170,"b":595662,"v":0.09},{"a":74989,"b":595662,"v":0.07},{"a":133352,"b":595662,"v":0.06},{"a":237137,"b":595662,"v":0.05},{"a":421697,"b":595662,"v":0.04},{"a":749894,"b":595662,"v":0.03},
{"a":1.334,"b":841395,"v":0.11},{"a":2.371,"b":841395,"v":0.11},{"a":4.217,"b":841395,"v":0.11},{"a":7.499,"b":841395,"v":0.11},{"a":13.34,"b":841395,"v":0.11},{"a":23.71,"b":841395,"v":0.11},{"a":42.17,"b":841395,"v":0.11},{"a":74.99,"b":841395,"v":0.11},{"a":133.4,"b":841395,"v":0.11},{"a":237.1,"b":841395,"v":0.11},{"a":421.7,"b":841395,"v":0.11},{"a":749.9,"b":841395,"v":0.11},{"a":1334,"b":841395,"v":0.11},{"a":2371,"b":841395,"v":0.11},{"a":4217,"b":841395,"v":0.11},{"a":7499,"b":841395,"v":0.11},{"a":13335,"b":841395,"v":0.11},{"a":23714,"b":841395,"v":0.10},{"a":42170,"b":841395,"v":0.08},{"a":74989,"b":841395,"v":0.07},{"a":133352,"b":841395,"v":0.06},{"a":237137,"b":841395,"v":0.05},{"a":421697,"b":841395,"v":0.04},{"a":749894,"b":841395,"v":0.03}
]},
"mark":{"type":"rect","width":16.6,"height":8.9,"clip":true,"strokeWidth":0},
"encoding":{
"x":{"field":"a","type":"quantitative","scale":{"type":"log","domain":[1,1000000],"nice":false},
"axis":{"orient":"bottom","values":[1,2,3,4,5,6,7,8,9,10,20,30,40,50,60,70,80,90,100,200,300,400,500,600,700,800,900,1000,2000,3000,4000,5000,6000,7000,8000,9000,10000,20000,30000,40000,50000,60000,70000,80000,90000,100000,200000,300000,400000,500000,600000,700000,800000,900000,1000000],
"labelExpr":"abs(log(datum.value)/LN10 - round(log(datum.value)/LN10)) < 0.01 ? '10' + ['⁰','¹','²','³','⁴','⁵','⁶'][round(log(datum.value)/LN10)] : ''",
"labelFlush":false,"labelOverlap":false,"tickSize":7,"tickColor":"#000","tickWidth":1,
"labelPadding":2,"labelFontSize":18,"labelFont":"Liberation Sans","labelColor":"#1a1a1a",
"title":"A-dye concentration (ppmm)","titleFontSize":24,"titleFont":"Liberation Sans","titleFontWeight":"normal","titleColor":"#1a1a1a","titlePadding":5,"titleX":179,
"domain":true,"domainColor":"#000","domainWidth":1.2,"grid":false,"zindex":1,
"encode":{"ticks":{"y2":{"condition":{"test":"abs(log(datum.value)/LN10 - round(log(datum.value)/LN10)) < 0.01","value":-7},"value":-4}}}}},
"y":{"field":"b","type":"quantitative","scale":{"type":"log","domain":[1,1000000],"nice":false},
"axis":{"orient":"left","values":[1,2,3,4,5,6,7,8,9,10,20,30,40,50,60,70,80,90,100,200,300,400,500,600,700,800,900,1000,2000,3000,4000,5000,6000,7000,8000,9000,10000,20000,30000,40000,50000,60000,70000,80000,90000,100000,200000,300000,400000,500000,600000,700000,800000,900000,1000000],
"labelExpr":"abs(log(datum.value)/LN10 - round(log(datum.value)/LN10)) < 0.01 ? '10' + ['⁰','¹','²','³','⁴','⁵','⁶'][round(log(datum.value)/LN10)] : ''",
"labelFlush":false,"labelOverlap":false,"tickSize":7,"tickColor":"#000","tickWidth":1,
"labelPadding":-3,"labelFontSize":18,"labelFont":"Liberation Sans","labelColor":"#1a1a1a",
"title":"B-dye concentration (ppmm)","titleFontSize":24,"titleFont":"Liberation Sans","titleFontWeight":"normal","titleColor":"#1a1a1a","titlePadding":8,
"domain":true,"domainColor":"#000","domainWidth":1.2,"grid":false,"zindex":1,
"encode":{"ticks":{"x2":{"condition":{"test":"abs(log(datum.value)/LN10 - round(log(datum.value)/LN10)) < 0.01","value":7},"value":4}}}}},
"color":{"field":"v","type":"quantitative",
"scale":{"domain":[0,0.1,0.2,0.3,0.37,0.44,0.52,0.62,0.7,0.78,0.85,0.92,1.0,1.07,1.12,1.18,1.24,1.32,1.42,1.5,1.58,1.64,1.7,1.76,1.85,1.92,2.0],
"range":["#cbc3e3","#d3cbe6","#e0d2e8","#e6d2e8","#e2bed2","#e6abb4","#f0a5ab","#f5a4a8","#f6b0a8","#f7c4ae","#f9d6b8","#fbeabe","#fcf4a0","#faf29e","#e6f0c0","#c4e090","#b6dcb8","#acdac4","#98d4cc","#88d0d8","#8cd6dc","#98e4ec","#9ee2ee","#a8d6f0","#b4c2ec","#78c8f0","#c8d0e8"],"interpolate":"rgb"},
"legend":{"title":null,"orient":"right","offset":4,"padding":0,"direction":"vertical","gradientLength":326,"gradientThickness":50,"gradientStrokeWidth":0,"values":[0,0.5,1,1.5,2],"format":".1f","labelFontSize":17,"labelFont":"Liberation Sans","labelColor":"#1a1a1a","labelOffset":5,
"encode":{"labels":{"baseline":{"value":"middle"},"dy":{"value":2}}}}}
}},
{"data":{"values":[{"label":"Slab 10cm x 10cm x 0.6cm"}]},
"mark":{"type":"text","align":"left","baseline":"middle","fontSize":23,"font":"Liberation Sans","color":"#1a1a1a"},
"encoding":{
"x":{"datum":19.4,"type":"quantitative","scale":{"type":"log","domain":[1,1000000],"nice":false},
"axis":{"orient":"top","values":[1,2,3,4,5,6,7,8,9,10,20,30,40,50,60,70,80,90,100,200,300,400,500,600,700,800,900,1000,2000,3000,4000,5000,6000,7000,8000,9000,10000,20000,30000,40000,50000,60000,70000,80000,90000,100000,200000,300000,400000,500000,600000,700000,800000,900000,1000000],
"labels":false,"title":null,"tickSize":7,"tickColor":"#000","tickWidth":1,"domain":true,"domainColor":"#000","domainWidth":1.2,"grid":false,"zindex":1,
"encode":{"ticks":{"y2":{"condition":{"test":"abs(log(datum.value)/LN10 - round(log(datum.value)/LN10)) < 0.01","value":7},"value":4}}}}},
"y":{"datum":350000,"type":"quantitative","scale":{"type":"log","domain":[1,1000000],"nice":false},
"axis":{"orient":"right","values":[1,2,3,4,5,6,7,8,9,10,20,30,40,50,60,70,80,90,100,200,300,400,500,600,700,800,900,1000,2000,3000,4000,5000,6000,7000,8000,9000,10000,20000,30000,40000,50000,60000,70000,80000,90000,100000,200000,300000,400000,500000,600000,700000,800000,900000,1000000],
"labels":false,"title":null,"tickSize":7,"tickColor":"#000","tickWidth":1,"domain":true,"domainColor":"#000","domainWidth":1.2,"grid":false,"zindex":1,
"encode":{"ticks":{"x2":{"condition":{"test":"abs(log(datum.value)/LN10 - round(log(datum.value)/LN10)) < 0.01","value":-7},"value":-4}}}}},
"text":{"field":"label","type":"nominal"}
}}
],
"resolve":{"axis":{"x":"independent","y":"independent"}}
}
